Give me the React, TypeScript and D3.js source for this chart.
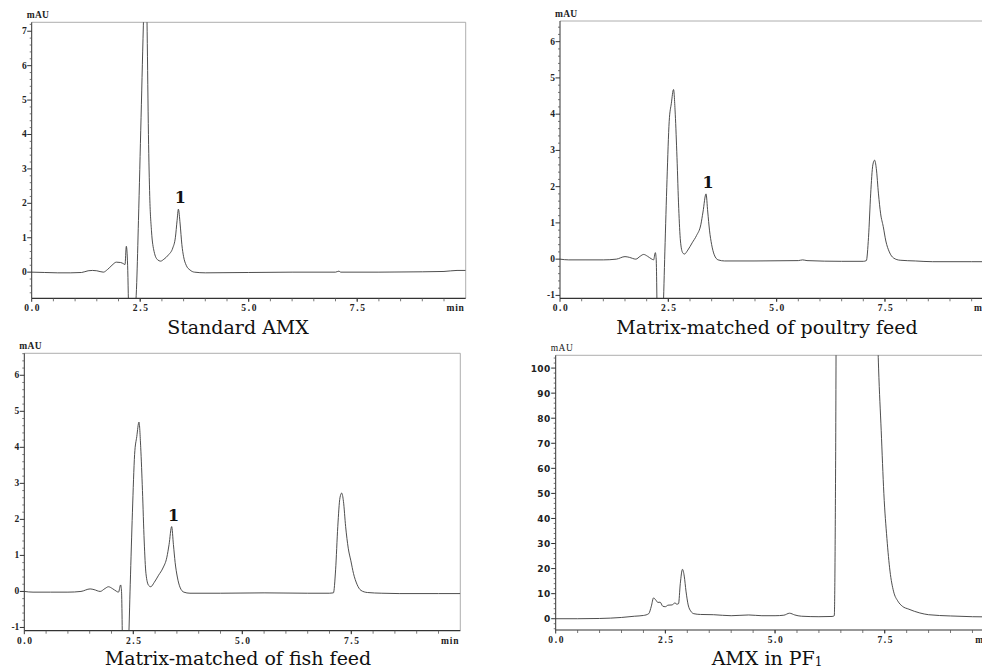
import React from "react";
import * as d3 from "d3";

// ---- data (time in min, absorbance in mAU) ----
const stdTime = [0, 0.3, 0.6, 0.9, 1.15, 1.3, 1.4, 1.5, 1.65, 1.75, 1.85, 1.95, 2.05, 2.12, 2.15, 2.18, 2.21, 2.24, 2.3, 2.37, 2.42, 2.46, 2.52, 2.58, 2.63, 2.66, 2.69, 2.72, 2.76, 2.82, 2.9, 2.97, 3.05, 3.15, 3.25, 3.31, 3.35, 3.38, 3.42, 3.46, 3.5, 3.56, 3.65, 3.75, 4.0, 5.0, 6.0, 7.0, 7.08, 7.12, 8.0, 9.0, 9.5, 9.8, 10];
const stdValue = [0, -0.01, -0.02, -0.02, -0.01, 0.04, 0.05, 0.04, 0.0, 0.08, 0.2, 0.29, 0.28, 0.24, 0.22, 0.75, 0.2, -1.5, -3, -1.5, -0.3, 1.5, 4.5, 7.5, 9.5, 7, 4, 2.2, 1.2, 0.6, 0.36, 0.32, 0.38, 0.5, 0.7, 1.0, 1.5, 1.83, 1.4, 0.8, 0.45, 0.2, 0.06, 0.0, -0.02, -0.01, 0, 0, 0.03, 0, 0, 0.01, 0.02, 0.05, 0.05];

const poultryTime = [0, 0.2, 0.6, 1.0, 1.3, 1.5, 1.6, 1.75, 1.85, 1.93, 2.02, 2.12, 2.16, 2.2, 2.22, 2.25, 2.32, 2.38, 2.42, 2.47, 2.52, 2.57, 2.62, 2.66, 2.7, 2.74, 2.78, 2.83, 2.87, 2.95, 3.05, 3.15, 3.25, 3.3, 3.37, 3.41, 3.45, 3.5, 3.56, 3.65, 3.8, 4.5, 5.5, 5.6, 5.7, 6.5, 7.0, 7.07, 7.12, 7.17, 7.22, 7.26, 7.3, 7.35, 7.4, 7.46, 7.52, 7.6, 7.7, 7.85, 8.2, 8.6, 9.5, 10];
const poultryValue = [0, -0.02, -0.02, -0.02, 0.0, 0.07, 0.05, 0.0, 0.08, 0.13, 0.08, 0.0, -0.02, 0.18, 0.0, -2, -3, -1.5, 0.2, 2.2, 3.8, 4.3, 4.68, 4.0, 2.8, 1.4, 0.5, 0.18, 0.14, 0.25, 0.45, 0.65, 0.95, 1.3, 1.8, 1.3, 0.8, 0.4, 0.12, -0.02, -0.05, -0.05, -0.04, -0.02, -0.04, -0.06, -0.06, -0.04, 0.6, 1.8, 2.6, 2.73, 2.5, 1.8, 1.25, 0.9, 0.5, 0.2, 0.03, -0.03, -0.05, -0.07, -0.07, -0.07];

const fishTime = [0, 0.2, 0.6, 1.0, 1.3, 1.51, 1.6, 1.74, 1.85, 1.93, 2.02, 2.12, 2.16, 2.21, 2.23, 2.26, 2.32, 2.39, 2.43, 2.48, 2.53, 2.58, 2.63, 2.67, 2.71, 2.75, 2.79, 2.85, 2.9, 2.98, 3.08, 3.18, 3.27, 3.32, 3.38, 3.42, 3.46, 3.51, 3.57, 3.66, 3.8, 4.5, 5.5, 6.5, 7.0, 7.09, 7.14, 7.19, 7.24, 7.28, 7.32, 7.37, 7.43, 7.49, 7.55, 7.63, 7.72, 7.87, 8.2, 8.6, 9.5, 10];
const fishValue = [0, -0.02, -0.02, -0.02, 0.0, 0.07, 0.05, 0.0, 0.08, 0.13, 0.08, 0.0, -0.02, 0.18, 0.0, -2, -3, -1.5, 0.2, 2.2, 3.8, 4.3, 4.7, 4.0, 2.8, 1.4, 0.5, 0.17, 0.13, 0.25, 0.45, 0.65, 0.95, 1.3, 1.8, 1.3, 0.8, 0.4, 0.12, -0.02, -0.05, -0.05, -0.04, -0.05, -0.05, -0.04, 0.6, 1.8, 2.6, 2.73, 2.5, 1.8, 1.2, 0.85, 0.5, 0.2, 0.03, -0.03, -0.05, -0.06, -0.06, -0.06];

const pfTime = [0, 0.5, 1.0, 1.5, 1.8, 2.0, 2.12, 2.18, 2.23, 2.28, 2.33, 2.38, 2.44, 2.5, 2.56, 2.65, 2.72, 2.76, 2.8, 2.84, 2.89, 2.93, 2.97, 3.02, 3.08, 3.15, 3.3, 3.6, 4.0, 4.4, 4.7, 5.0, 5.2, 5.33, 5.45, 5.6, 6.0, 6.3, 6.35, 6.38, 6.41, 6.6, 7.0, 7.2, 7.3, 7.36, 7.42, 7.48, 7.55, 7.62, 7.7, 7.8, 7.9, 8.05, 8.3, 8.5, 9.0, 9.5, 10];
const pfValue = [0, 0, 0.1, 0.5, 1.0, 1.3, 2.0, 5, 8.3, 7.5, 6.5, 6.6, 5.0, 4.8, 5.4, 5.5, 6.3, 5.8, 6.0, 14, 19.7, 17, 11, 5.5, 3, 2.0, 1.7, 1.6, 1.2, 1.5, 1.2, 1.2, 1.4, 2.2, 1.5, 1.0, 0.8, 0.9, 1.2, 60, 200, 500, 450, 250, 140, 100, 75, 50, 32, 19, 11, 7, 5, 3.8, 2.3, 1.6, 1.1, 0.8, 0.7];

const xTickValues = [0, 2.5, 5, 7.5];
const xTickLabels = ["0.0", "2.5", "5.0", "7.5"];
const smallYTicks = [-1, 0, 1, 2, 3, 4, 5, 6, 7];
const largeYTicks = [0, 10, 20, 30, 40, 50, 60, 70, 80, 90, 100];

const titles = ["Standard AMX", "Matrix-matched of poultry feed", "Matrix-matched of fish feed", "AMX in PF"];
const peakLabel = "1";

type PanelProps = {
  id: string;
  left: number; right: number; top: number; bottom: number;
  yDomain: [number, number];
  yTicks: number[];
  yMinorStep: number;
  time: number[];
  value: number[];
  peakTime?: number;
  peakValue?: number;
  title: string;
  titleX: number; titleY: number;
  sub?: string;
  sansY?: boolean;
};

function Panel(p: PanelProps) {
  const x = d3.scaleLinear().domain([0, 10]).range([p.left, p.right]);
  const y = d3.scaleLinear().domain(p.yDomain).range([p.bottom, p.top]);
  const pts = p.time.map((t, i) => [t, p.value[i]] as [number, number]);
  const line = d3.line<[number, number]>().x(d => x(d[0])).y(d => y(d[1])).curve(d3.curveMonotoneX);
  const majors = p.yTicks.filter(v => v >= p.yDomain[0] && v <= p.yDomain[1]);
  const minors = d3.range(Math.ceil(p.yDomain[0] / p.yMinorStep) * p.yMinorStep, p.yDomain[1], p.yMinorStep)
    .filter(v => !majors.some(m => Math.abs(m - v) < 1e-6));
  const xMinors = d3.range(0.5, 10, 0.5);
  const axisColor = "#333";
  return (
    <g>
      <defs>
        <clipPath id={p.id}>
          <rect x={p.left} y={p.top} width={p.right - p.left} height={p.bottom - p.top} />
        </clipPath>
      </defs>
      {/* frame */}
      <line x1={p.left} x2={p.right} y1={p.top} y2={p.top} stroke="#999" strokeWidth={0.8} />
      <line x1={p.right} x2={p.right} y1={p.top} y2={p.bottom} stroke="#999" strokeWidth={0.8} />
      <path d={line(pts) || ""} fill="none" stroke="#3a3a3a" strokeWidth={0.9} clipPath={`url(#${p.id})`} />
      <line x1={p.left} x2={p.left} y1={p.top} y2={p.bottom} stroke={axisColor} strokeWidth={1} />
      <line x1={p.left} x2={p.right} y1={p.bottom} y2={p.bottom} stroke={axisColor} strokeWidth={1.2} />
      {/* y ticks */}
      {minors.map((v, i) => (
        <line key={"ym" + i} x1={p.left - 2} x2={p.left} y1={y(v)} y2={y(v)} stroke="#555" strokeWidth={0.8} />
      ))}
      {majors.map((v, i) => (
        <g key={"yM" + i}>
          <line x1={p.left - 4.5} x2={p.left} y1={y(v)} y2={y(v)} stroke={axisColor} strokeWidth={1} />
          {p.sansY ? (
            <text x={p.left - 5} y={y(v) + 3.5} textAnchor="end" fontFamily="DejaVu Sans" fontWeight="bold"
              fontSize={9} letterSpacing={0.4} fill="#222">{v}</text>
          ) : (
            <text x={p.left - 5} y={y(v) + 3} textAnchor="end" fontFamily="Liberation Serif" fontWeight="bold"
              fontSize={9.5} fill="#222">{v}</text>
          )}
        </g>
      ))}
      {/* x ticks */}
      {xMinors.map((v, i) => (
        <line key={"xm" + i} x1={x(v)} x2={x(v)} y1={p.bottom} y2={p.bottom + 3} stroke="#555" strokeWidth={0.8} />
      ))}
      {xTickValues.map((v, i) => (
        <g key={"xM" + i}>
          <line x1={x(v)} x2={x(v)} y1={p.bottom} y2={p.bottom + 3.5} stroke={axisColor} strokeWidth={1} />
          <text x={x(v) + 1} y={p.bottom + 13} textAnchor="middle" fontFamily="Liberation Serif" fontWeight="bold"
            fontSize={9.5} letterSpacing={1.6} fill="#222">{xTickLabels[i]}</text>
        </g>
      ))}
      <text x={x(10) - 1} y={p.bottom + 13} textAnchor="end" fontFamily="Liberation Serif" fontWeight="bold"
        fontSize={9.5} letterSpacing={0.8} fill="#222">min</text>
      <text x={p.left - 5} y={p.top - 4} fontFamily="Liberation Serif" fontWeight={p.sansY ? "normal" : "bold"}
        fontSize={9.5} letterSpacing={p.sansY ? 0.5 : 0.3} fill="#222">mAU</text>
      {p.peakTime !== undefined && p.peakValue !== undefined && (
        <text x={x(p.peakTime) + 2} y={y(p.peakValue) - 6} textAnchor="middle" fontFamily="DejaVu Serif"
          fontWeight="bold" fontSize={16} fill="#111">{peakLabel}</text>
      )}
      <text x={p.titleX} y={p.titleY} textAnchor="middle" fontFamily="DejaVu Serif" fontSize={19} fill="#111">
        {p.title}
        {p.sub && <tspan fontSize={12} dy={1}>{p.sub}</tspan>}
      </text>
    </g>
  );
}

export default function App() {
  return (
    <div style={{ position: "absolute", left: 0, top: 0, width: 982, height: 669, overflow: "hidden", background: "#fff" }}>
      <svg width={982} height={669} style={{ display: "block" }}>
        <rect width={982} height={669} fill="#fff" />
        <Panel id="c1" left={31.7} right={465.7} top={22.3} bottom={298.3} yDomain={[-0.76, 7.26]}
          yTicks={smallYTicks} yMinorStep={0.2} time={stdTime} value={stdValue}
          peakTime={3.38} peakValue={1.83} title={titles[0]} titleX={238} titleY={334} />
        <Panel id="c2" left={560} right={993.3} top={21} bottom={298.3} yDomain={[-1.08, 6.57]}
          yTicks={smallYTicks} yMinorStep={0.2} time={poultryTime} value={poultryValue}
          peakTime={3.37} peakValue={1.8} title={titles[1]} titleX={767} titleY={334} />
        <Panel id="c3" left={24.3} right={460.3} top={353.3} bottom={630.7} yDomain={[-1.09, 6.61]}
          yTicks={smallYTicks} yMinorStep={0.2} time={fishTime} value={fishValue}
          peakTime={3.38} peakValue={1.8} title={titles[2]} titleX={238} titleY={665} />
        <Panel id="c4" left={555.7} right={994.4} top={355.3} bottom={630} yDomain={[-4.5, 105.1]}
          yTicks={largeYTicks} yMinorStep={2} time={pfTime} value={pfValue} sansY
          title={titles[3]} sub="1" titleX={767} titleY={665} />
      </svg>
    </div>
  );
}
